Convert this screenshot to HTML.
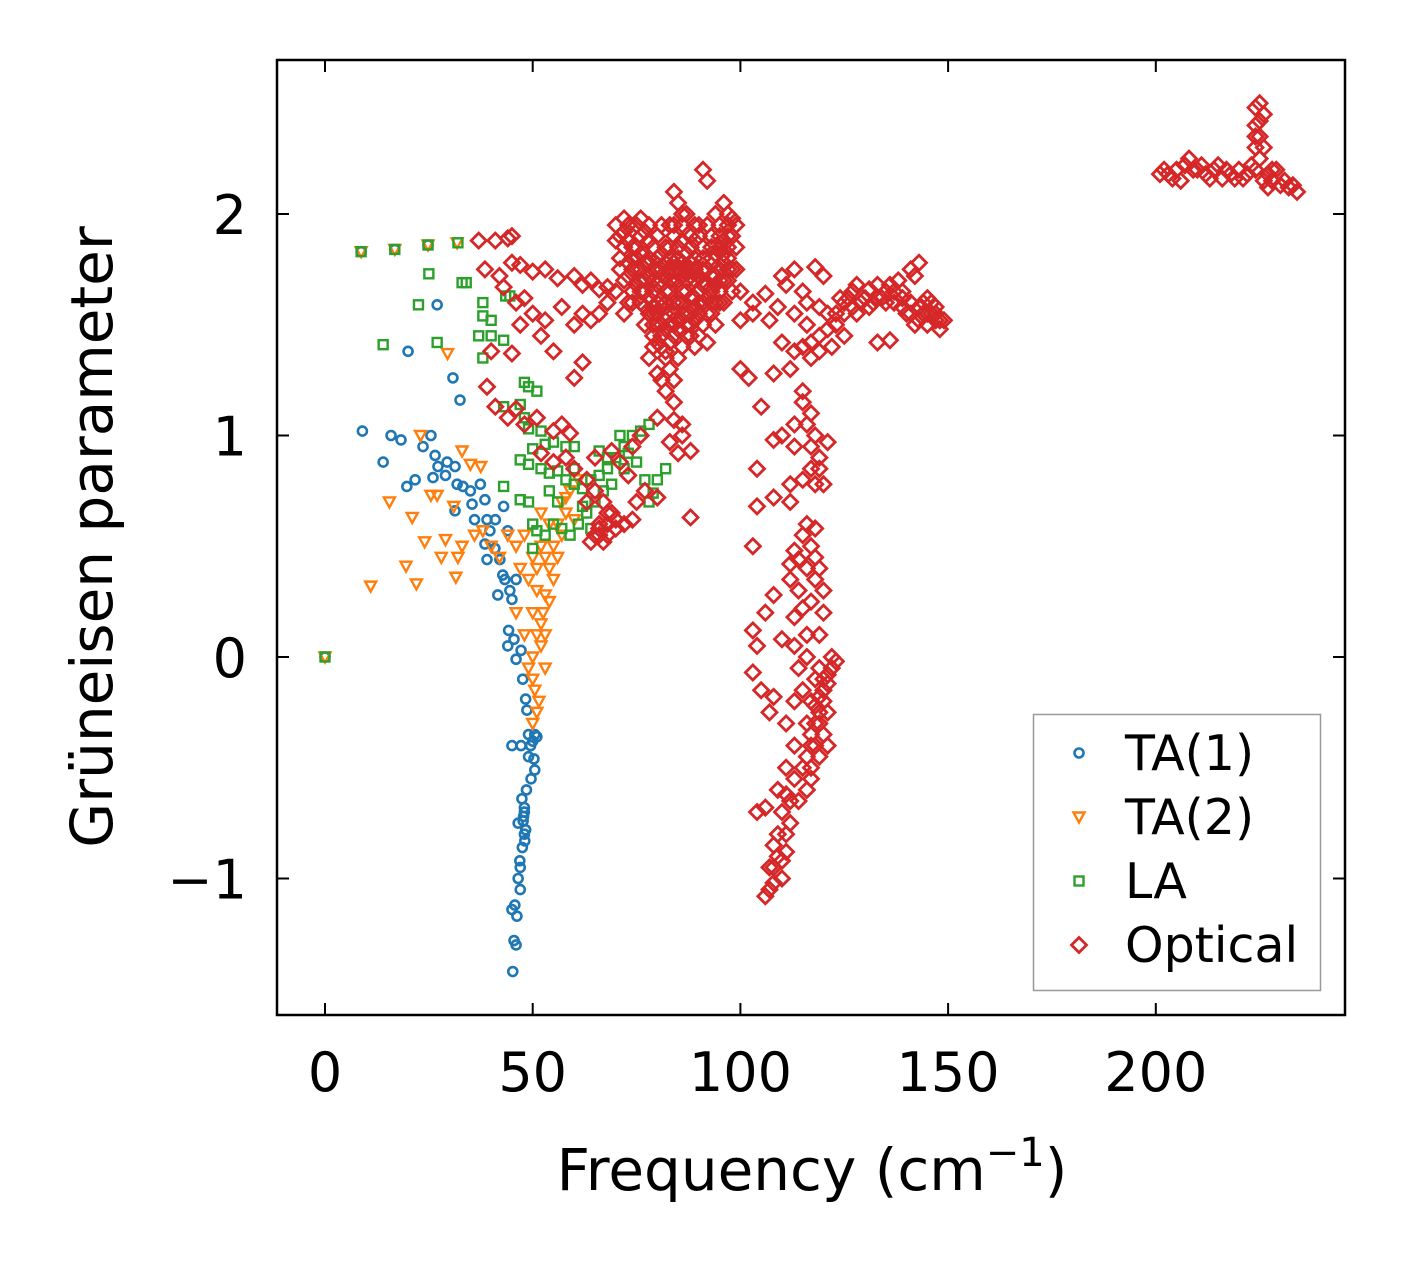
<!DOCTYPE html>
<html><head><meta charset="utf-8"><style>
html,body{margin:0;padding:0;background:#fff;}
svg{display:block;font-family:"DejaVu Sans","Liberation Sans",sans-serif;}
</style></head><body>
<svg id="chart" width="1406" height="1264" viewBox="0 0 1406 1264"></svg>
<script>
const xTicks=[0,50,100,150,200];
const yTicks=[-1,0,1,2];
const ta1=[[0,0],[8.7,1.83],[16.8,1.84],[24.8,1.86],[27,1.59],[20,1.38],[30.8,1.26],[32.5,1.16],[9,1.02],[15.9,1.0],[18.3,0.98],[25.5,1.0],[14,0.88],[19.7,0.77],[21.7,0.8],[23.6,0.95],[26.5,0.91],[27.2,0.86],[29.4,0.88],[31.3,0.86],[26,0.81],[29,0.82],[31.8,0.78],[33.2,0.77],[35,0.75],[37.4,0.78],[38.5,0.71],[35.4,0.69],[31.3,0.66],[39,0.62],[36,0.62],[39.7,0.57],[38.5,0.51],[40.9,0.49],[42.1,0.44],[42.8,0.37],[39,0.44],[43.3,0.35],[44.5,0.3],[41.6,0.28],[45,0.26],[44.2,0.12],[45.5,0.08],[47.2,0.03],[46,-0.01],[47.6,-0.1],[48.3,-0.19],[49,-0.35],[50.3,-0.46],[49.6,-0.55],[47.2,-0.4],[47.4,-0.64],[47.7,-0.74],[48.1,-0.83],[46.9,-0.92],[46.5,-1.0],[45.7,-1.12],[46.2,-1.17],[45.5,-1.28],[45.2,-1.42],[48.6,-0.24],[50.5,-0.51],[48.3,-0.78],[46.5,-0.75],[45,-0.4],[44,0.05],[46,0.35],[44,0.57],[41,0.62],[50.5,-0.35],[51,-0.36],[48,-0.7],[47,-1.05],[48,-0.68],[47.5,-0.86],[46,-1.3],[45,-1.14],[49,-0.45],[48.5,-0.6],[43,0.68],[48,-0.8],[47.8,-0.72],[49.5,-0.4],[50,-0.38],[47,-0.95]];
const ta2=[[0,0],[8.7,1.83],[16.8,1.84],[24.8,1.86],[31.8,1.87],[29.5,1.37],[23,1.0],[33,0.93],[35,0.87],[37.5,0.86],[15.5,0.7],[21,0.63],[25.5,0.73],[27,0.73],[31,0.68],[24,0.52],[29,0.53],[33,0.5],[28,0.45],[32,0.45],[19.5,0.41],[22,0.33],[11,0.32],[31.5,0.36],[38,0.57],[40,0.5],[42,0.45],[44,0.55],[46,0.5],[48,0.55],[50,0.45],[47,0.4],[49,0.35],[51,0.3],[53,0.28],[50,0.2],[52,0.15],[54,0.25],[55,0.35],[56,0.45],[57,0.55],[58,0.65],[59,0.75],[54,0.6],[52,0.05],[50,0],[49,-0.05],[50.5,-0.15],[51,-0.25],[50,-0.3],[48,0.1],[53,0.1],[55,0.5],[57,0.7],[60,0.62],[52,0.65],[61,0.8],[53,-0.05],[46,0.2],[36,0.55],[50,-0.1],[51,0.4],[52,0.5],[53,0.45],[54,0.4],[56,0.6],[58,0.72],[51.5,-0.2],[51,0.1],[52.5,0.2]];
const la=[[0,0],[8.7,1.83],[16.8,1.84],[24.8,1.86],[32,1.87],[25,1.73],[33,1.69],[34,1.69],[22.5,1.59],[14,1.41],[27,1.42],[38,1.6],[40,1.52],[38,1.54],[43.5,1.63],[44.5,1.63],[37,1.45],[40,1.45],[43,1.43],[38,1.35],[48,1.24],[49,1.22],[51,1.2],[43,1.13],[47,1.14],[48,1.08],[49,1.03],[52,1.02],[50,0.94],[53,0.96],[55,0.97],[58,0.95],[60,0.95],[47,0.89],[49,0.87],[52,0.85],[54,0.83],[56,0.84],[58,0.8],[60,0.78],[62,0.76],[64,0.8],[66,0.82],[68,0.85],[70,0.9],[72,0.95],[74,1.0],[76,1.02],[78,1.05],[71,1.0],[73,0.92],[75,0.88],[77,0.8],[79,0.74],[80,0.8],[82,0.85],[78,0.7],[47,0.71],[49,0.7],[50,0.6],[51,0.57],[53,0.55],[55,0.6],[57,0.58],[59,0.55],[61,0.6],[63,0.65],[65,0.7],[67,0.75],[69,0.78],[56,0.7],[54,0.75],[62,0.68],[64,0.58],[72,0.85],[66,0.93],[68,0.9],[50,0.49],[43,0.77],[60,0.85]];
const optical=[[37,1.88],[41,1.88],[44,1.89],[45,1.9],[38.5,1.75],[42,1.72],[45,1.78],[47,1.77],[50,1.74],[53,1.75],[56,1.71],[60,1.72],[62,1.68],[64,1.7],[66,1.66],[68,1.67],[70,1.65],[43,1.67],[46,1.6],[48,1.62],[50,1.55],[53,1.52],[57,1.58],[60,1.5],[62,1.55],[64,1.52],[66,1.55],[68,1.6],[72,1.55],[74,1.6],[47,1.5],[52,1.45],[55,1.38],[45,1.37],[40,1.38],[39,1.22],[41,1.13],[44,1.08],[48,1.05],[51,1.08],[55,1.02],[57,1.05],[59,1.01],[60,1.26],[62,1.33],[46,1.12],
[52,0.92],[55,0.88],[58,0.9],[60,0.85],[63,0.8],[65,0.75],[67,0.7],[69,0.65],[66,0.55],[68,0.55],[70,0.58],[72,0.6],[74,0.62],[75,0.7],[77,0.75],[73,0.82],[71,0.88],[69,0.93],[74,0.95],[76,1.0],[80,1.08],[84,1.07],[86,1.0],[83,0.97],[85,0.92],[88,0.63],[80,0.72],[66,0.6],[64,0.52],[68,0.6],[63,0.7],[65,0.9],[65,0.55],[67,0.52],[66,0.58],[68,0.65],[70,0.62],
[70,1.95],[72,1.98],[74,1.93],[75,1.85],[76,1.9],[78,1.88],[80,1.8],[82,1.85],[84,1.9],[86,1.88],[88,1.85],[90,1.9],[92,1.95],[94,2.0],[96,2.05],[97,1.95],[95,1.85],[93,1.8],[91,1.75],[89,1.7],[87,1.65],[85,1.7],[83,1.75],[81,1.7],[79,1.65],[77,1.7],[75,1.75],[73,1.78],[71,1.8],[72,1.7],[74,1.65],[76,1.6],[78,1.55],[80,1.5],[82,1.55],[84,1.6],[86,1.55],[88,1.5],[90,1.45],[92,1.55],[94,1.6],[96,1.7],[98,1.75],[99,1.85],[97,1.8],[95,1.75],[93,1.65],[91,1.6],[89,1.58],[87,1.45],[85,1.48],[83,1.42],[81,1.4],[79,1.45],[77,1.5],[78,1.35],[80,1.28],[82,1.2],[84,1.15],[86,1.05],[88,0.93],[84,2.1],[85,2.05],[87,2.0],[89,1.95],[91,2.2],[92,2.15],[86,1.95],[83,1.95],[80,1.9],[78,1.95],[76,1.98],[73,1.88],[75,1.68],[77,1.78],[79,1.75],[81,1.62],[83,1.65],[85,1.8],[87,1.75],[89,1.8],[91,1.85],[93,1.9],[95,1.95],[97,2.0],[96,1.6],[94,1.5],[92,1.42],[90,1.65],[88,1.72],[86,1.65],[82,1.78],[80,1.68],[78,1.72],[76,1.82],[74,1.75],[72,1.85],[70,1.88],[73,1.6],[79,1.58],[84,1.5],[89,1.4],[99,1.95],[81,1.95],[83,1.85],[85,1.6],[87,1.55],[89,1.62],[91,1.68],[93,1.72],[95,1.65],[97,1.9],[82,1.65],[78,1.8],[76,1.75],[74,1.85],[80,1.6],[84,1.7],[86,1.78],[88,1.62],[90,1.55],[92,1.75],[94,1.82],[96,1.88],[98,1.98],[82,1.35],[81,1.5],
[71,1.9],[73,1.95],[75,1.95],[77,1.92],[79,1.85],[81,1.82],[83,1.8],[85,1.85],[87,1.82],[89,1.88],[91,1.8],[93,1.85],[95,1.9],[97,1.85],[71,1.75],[73,1.72],[75,1.8],[77,1.65],[79,1.7],[81,1.75],[83,1.7],[85,1.75],[87,1.7],[89,1.75],[91,1.7],[93,1.77],[95,1.7],[97,1.75],[76,1.7],[78,1.62],[80,1.55],[82,1.6],[84,1.55],[86,1.6],[88,1.55],[90,1.6],[92,1.62],[94,1.68],[96,1.78],[77,1.58],[79,1.5],[81,1.45],[83,1.5],[85,1.52],[87,1.5],[89,1.52],[91,1.5],[93,1.55],[80,1.42],[82,1.48],[84,1.45],[86,1.4],[88,1.45],[79,1.55],[81,1.58],[72,1.92],[74,1.8],[76,1.65],[78,1.78],[80,1.75],[82,1.72],[84,1.78],[86,1.72],[88,1.78],[90,1.72],[92,1.68],[94,1.72],[96,1.82],[98,1.9],[95,1.6],[93,1.6],[97,1.7],[98,1.65],[99,1.75],[84,1.95],[86,2.0],[88,1.9],[90,1.95],[83,1.3],[81,1.25],[84,1.25],[85,1.35],[82,1.38],[79,1.4],
[100,1.65],[103,1.6],[106,1.64],[100,1.52],[103,1.55],[107,1.52],[109,1.58],[113,1.55],[115,1.65],[110,1.72],[113,1.75],[118,1.76],[120,1.72],[111,1.68],[116,1.6],[121,1.55],[123,1.5],[125,1.6],[127,1.65],[130,1.62],[133,1.68],[136,1.68],[139,1.65],[141,1.75],[143,1.78],[145,1.62],[147,1.58],[149,1.52],[148,1.48],[146,1.55],[144,1.6],[142,1.5],[140,1.55],[137,1.6],[135,1.65],[132,1.6],[128,1.55],[125,1.45],[122,1.4],[119,1.38],[117,1.35],[113,1.38],[110,1.42],[100,1.3],[102,1.26],[108,1.28],[112,1.3],[133,1.42],[136,1.43],[142,1.72],[138,1.7],[128,1.68],[124,1.62],[119,1.58],[116,1.5],[147,1.52],[145,1.55],[143,1.52],[141,1.6],[139,1.58],[131,1.66],[134,1.62],[126,1.62],[129,1.6],[131,1.58],[133,1.62],[135,1.6],[137,1.65],[139,1.62],[141,1.55],[143,1.58],[145,1.5],[147,1.55],[146,1.6],[144,1.55],[148,1.52],[127,1.58],[125,1.55],[123,1.55],[121,1.48],[119,1.45],[117,1.42],[115,1.4],
[115,1.2],[117,1.1],[115,1.15],[113,1.05],[118,1.0],[121,0.97],[119,0.9],[117,0.85],[115,0.8],[112,0.78],[118,0.78],[120,0.78],[105,1.13],[110,1.0],[113,0.95],[108,0.98],[104,0.85],[112,0.7],[108,0.72],[104,0.68],[103,0.5],[116,0.6],[118,0.58],[113,0.48],[114,0.44],[116,0.4],[118,0.35],[120,0.3],[117,0.25],[115,0.22],[113,0.18],[110,0.08],[106,0.2],[103,0.12],[104,0.05],[108,0.28],[112,0.35],[114,-0.05],[116,0.0],[119,-0.05],[122,0.0],[121,-0.12],[120,-0.2],[119,-0.25],[118,-0.3],[117,-0.35],[116,-0.45],[115,-0.5],[113,-0.55],[111,-0.62],[110,-0.7],[112,-0.75],[109,-0.8],[108,-0.85],[107,-0.95],[108,-1.02],[106,-1.08],[110,-0.92],[111,-0.88],[103,-0.07],[105,-0.15],[108,-0.18],[107,-0.25],[111,-0.3],[113,-0.2],[115,-0.15],[118,-0.1],[120,-0.35],[123,-0.02],[121,-0.4],[119,-0.45],[117,-0.55],[113,-0.4],[111,-0.5],[106,-0.68],[104,-0.7],[109,-0.6],[110,-1.0],[121,-0.08],[120,-0.15],[119,-0.18],[118,-0.22],[122,-0.05],[117,-0.4],[116,-0.3],[118,0.45],[117,0.5],[119,0.4],[120,0.2],[119,0.1],[117,-0.2],[118,-0.4],[119,-0.3],[120,-0.1],[121,-0.25],[117,-0.5],[116,-0.6],[114,-0.65],[112,-0.65],[111,-0.8],[109,-0.9],[107,-1.05],[108,-0.95],[112,0.42],[114,0.3],[116,0.1],[113,0.05],[115,0.55],[117,0.95],[116,1.05],[119,0.85],
[201,2.18],[203,2.18],[205,2.2],[207,2.22],[208,2.25],[210,2.2],[212,2.18],[214,2.2],[216,2.16],[218,2.18],[220,2.2],[222,2.18],[223,2.22],[224,2.3],[224,2.4],[224,2.48],[225,2.5],[226,2.45],[225,2.35],[225,2.25],[226,2.15],[227,2.18],[228,2.15],[230,2.13],[232,2.12],[234,2.1],[229,2.2],[206,2.15],[211,2.22],[221,2.16],[202,2.2],[204,2.16],[209,2.2],[213,2.16],[215,2.22],[217,2.2],[219,2.16],[224,2.2],[224,2.35],[225,2.42],[226,2.3],[231,2.15],[233,2.13],[228,2.2],[227,2.12]];

const L=277,R=1345,T=60,B=1015;
const sx=v=>325+v*4.154;
const sy=v=>657-v*221.5;
const NS="http://www.w3.org/2000/svg";
const svg=document.getElementById('chart');
function mk(tag,attrs,parent){const e=document.createElementNS(NS,tag);for(const k in attrs)e.setAttribute(k,attrs[k]);(parent||svg).appendChild(e);return e;}

const plot=mk('g',{});



function marker(kind,x,y,g){
  let e;
  if(kind==='circle') e=mk('circle',{cx:x,cy:y,r:4.5,fill:'none',stroke:'#1f77b4','stroke-width':2.6},g);
  else if(kind==='tri') e=mk('polygon',{points:`${x-5.5},${y-4.5} ${x+5.5},${y-4.5} ${x},${y+5.5}`,fill:'none',stroke:'#ff7f0e','stroke-width':2.4},g);
  else if(kind==='sq') e=mk('rect',{x:x-4.5,y:y-4.5,width:9,height:9,fill:'none',stroke:'#2ca02c','stroke-width':2.4},g);
  else e=mk('polygon',{points:`${x},${y-7.5} ${x+7.5},${y} ${x},${y+7.5} ${x-7.5},${y}`,fill:'none',stroke:'#d62728','stroke-width':2.8},g);
  return e;
}
function series(data,kind,name){
  const g=mk('g',{},plot);
  
  
  data.forEach(d=>{
    const m=marker(kind,sx(d[0]),sy(d[1]),g);
    
    
  });
}
series(ta1,'circle','ta1-series');
series(ta2,'tri','ta2-series');
series(la,'sq','la-series');
series(optical,'dia','optical-series');

const frame=mk('rect',{x:L,y:T,width:R-L,height:B-T,fill:'none',stroke:'#000','stroke-width':2.5});



xTicks.forEach(v=>{
  const x=sx(v);
  const t1=mk('line',{x1:x,x2:x,y1:B,y2:B-12,stroke:'#000','stroke-width':2});
  
  
  const t2=mk('line',{x1:x,x2:x,y1:T,y2:T+12,stroke:'#000','stroke-width':2});
  
  
  const lb=mk('text',{x:x,y:1091,'text-anchor':'middle','font-size':54,fill:'#000'});
  lb.textContent=String(v);
  
  
});
yTicks.forEach(v=>{
  const y=sy(v);
  const t1=mk('line',{x1:L,x2:L+12,y1:y,y2:y,stroke:'#000','stroke-width':2});
  
  
  const t2=mk('line',{x1:R,x2:R-12,y1:y,y2:y,stroke:'#000','stroke-width':2});
  
  
  const lb=mk('text',{x:247,y:y+20,'text-anchor':'end','font-size':54,fill:'#000'});
  lb.textContent=v<0?'\u2212'+Math.abs(v):String(v);
  
  
});

const xl=mk('text',{x:812,y:1190,'text-anchor':'middle','font-size':58,fill:'#000'});
xl.innerHTML='Frequency (cm<tspan dy="-24" font-size="40">\u22121</tspan><tspan dy="24">)</tspan>';


const yl=mk('text',{x:0,y:0,'text-anchor':'middle','font-size':58,fill:'#000',transform:'translate(112,537) rotate(-90)'});
yl.textContent='Grüneisen parameter';



const lg=mk('g',{});


mk('rect',{x:1033.5,y:714.5,width:287,height:276,fill:'#fff',stroke:'#999','stroke-width':1.5},lg);
const legNames=['TA(1)','TA(2)','LA','Optical'];
const legKinds=['circle','tri','sq','dia'];
legNames.forEach((n,i)=>{
  const y=753+i*64;
  const e=mk('g',{},lg);
  
  
  marker(legKinds[i],1079,y,e);
  const t=mk('text',{x:1125,y:y+17,'font-size':49,fill:'#000'},e);
  t.textContent=n;
});
</script>
</body></html>
